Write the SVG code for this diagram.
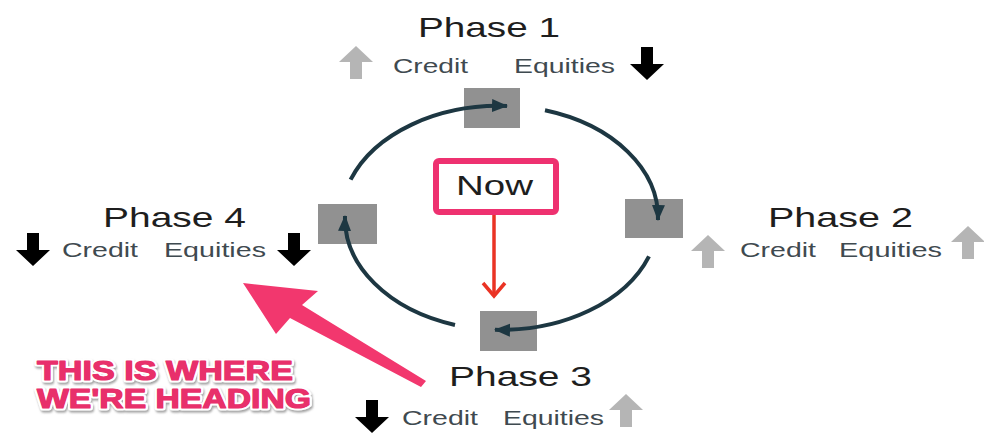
<svg xmlns="http://www.w3.org/2000/svg" width="984" height="434" viewBox="0 0 984 434">
<style>
.ph{font-family:"Liberation Sans",Arial,sans-serif;font-size:28px;fill:#1e1e1e}
.lb{font-family:"Liberation Sans",Arial,sans-serif;font-size:21px;fill:#3f4a50}
.sq{fill:#919191}
.cyc{fill:none;stroke:#1d3742;stroke-width:4;marker-end:url(#ah)}
.up{fill:#b5b5b5}
.dn{fill:#000}
.head{font-family:"Liberation Sans",Arial,sans-serif;font-size:28px;font-weight:bold;fill:#e8306b;stroke:#fff;stroke-width:5;stroke-linejoin:round;paint-order:stroke;filter:url(#sh)}
.headf{font-family:"Liberation Sans",Arial,sans-serif;font-size:28px;font-weight:bold;fill:#e8306b;stroke:#e8306b;stroke-width:1.2;stroke-linejoin:round}
</style>
<defs>
<marker id="ah" markerUnits="userSpaceOnUse" markerWidth="18" markerHeight="16" refX="15" refY="8" orient="auto">
<path d="M0 1.5 L16 8 L0 14.5 Z" fill="#1d3742"/>
</marker>
<path id="upA" d="M17 0 L34 16 L23 16 L23 33 L11 33 L11 16 L0 16 Z"/>
<path id="dnA" d="M17 33 L34 17 L23 17 L23 0 L11 0 L11 17 L0 17 Z"/>
<filter id="sh" x="-5%" y="-20%" width="110%" height="150%">
<feDropShadow dx="1" dy="2" stdDeviation="1" flood-color="#777" flood-opacity="0.7"/>
</filter>
</defs>

<g id="sq1"><rect class="sq" x="464" y="88" width="56" height="40"/></g>
<g id="sq2"><rect class="sq" x="625" y="199" width="58" height="39"/></g>
<g id="sq3"><rect class="sq" x="480" y="311" width="57" height="40"/></g>
<g id="sq4"><rect class="sq" x="318" y="204" width="59" height="40"/></g>

<g id="connectors">
<path class="cyc" d="M350.6 179.7 A158 112 0 0 1 507 106"/>
<path class="cyc" d="M545 110.3 A158 112 0 0 1 658 220"/>
<path class="cyc" d="M649 256.3 A158 112 0 0 1 495 329.8"/>
<path class="cyc" d="M455 325 A158 112 0 0 1 345 216"/>
<path d="M494 215 L494 295" stroke="#ea3324" stroke-width="3.5" fill="none"/>
<path d="M483 283 L494 296 L505 283" stroke="#ea3324" stroke-width="3.5" fill="none"/>
</g>

<g id="now">
<rect x="436" y="161" width="120" height="51" rx="3" fill="#fff" stroke="#ee3170" stroke-width="6"/>
<text class="ph" x="456" y="195" textLength="77" lengthAdjust="spacingAndGlyphs">Now</text>
</g>

<g id="phase1">
<text class="ph" x="418" y="37" textLength="142" lengthAdjust="spacingAndGlyphs">Phase 1</text>
<use href="#upA" class="up" x="339" y="46"/>
<text class="lb" x="393" y="73" textLength="75" lengthAdjust="spacingAndGlyphs">Credit</text>
<text class="lb" x="514" y="73" textLength="101" lengthAdjust="spacingAndGlyphs">Equities</text>
<use href="#dnA" class="dn" x="630" y="47"/>
</g>

<g id="phase2">
<text class="ph" x="768" y="227" textLength="145" lengthAdjust="spacingAndGlyphs">Phase 2</text>
<use href="#upA" class="up" x="691" y="235"/>
<text class="lb" x="740" y="257" textLength="76" lengthAdjust="spacingAndGlyphs">Credit</text>
<text class="lb" x="839" y="257" textLength="103" lengthAdjust="spacingAndGlyphs">Equities</text>
<use href="#upA" class="up" x="951" y="226"/>
</g>

<g id="phase3">
<text class="ph" x="449" y="386" textLength="143" lengthAdjust="spacingAndGlyphs">Phase 3</text>
<use href="#dnA" class="dn" x="355" y="400"/>
<text class="lb" x="402" y="425" textLength="76" lengthAdjust="spacingAndGlyphs">Credit</text>
<text class="lb" x="503" y="425" textLength="101" lengthAdjust="spacingAndGlyphs">Equities</text>
<use href="#upA" class="up" x="609" y="394"/>
</g>

<g id="phase4">
<text class="ph" x="103" y="227" textLength="143" lengthAdjust="spacingAndGlyphs">Phase 4</text>
<use href="#dnA" class="dn" x="16" y="233"/>
<text class="lb" x="62" y="257" textLength="76" lengthAdjust="spacingAndGlyphs">Credit</text>
<text class="lb" x="164" y="257" textLength="102" lengthAdjust="spacingAndGlyphs">Equities</text>
<use href="#dnA" class="dn" x="277" y="233"/>
</g>

<g id="callout">
<path d="M243 283 L318 291 L302 305 L426 381 L421 387 L290 318 L276 334 Z" fill="#f2376e"/>
<text class="head" x="37" y="380" textLength="256" lengthAdjust="spacingAndGlyphs">THIS IS WHERE</text>
<text class="head" x="37" y="408" textLength="274" lengthAdjust="spacingAndGlyphs">WE'RE HEADING</text>
<text class="headf" x="37" y="380" textLength="256" lengthAdjust="spacingAndGlyphs">THIS IS WHERE</text>
<text class="headf" x="37" y="408" textLength="274" lengthAdjust="spacingAndGlyphs">WE'RE HEADING</text>
</g>
</svg>
